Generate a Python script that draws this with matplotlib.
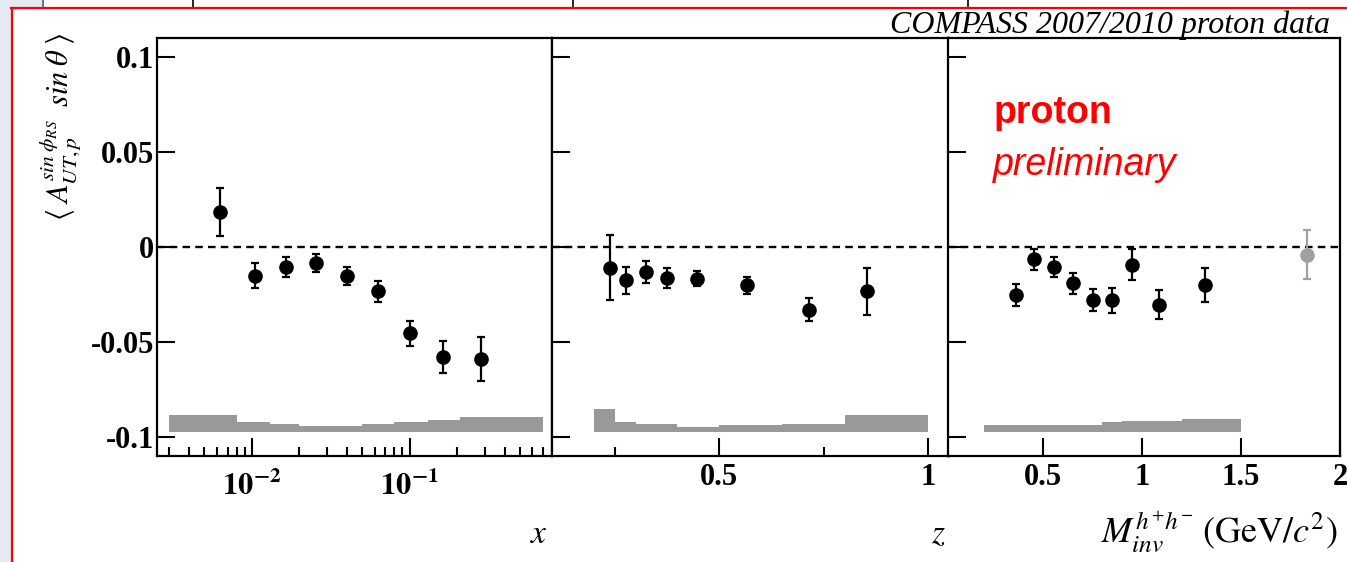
import matplotlib
matplotlib.use("Agg")
import matplotlib.pyplot as plt
import numpy as np
from matplotlib.lines import Line2D
from matplotlib.patches import Rectangle
from matplotlib.ticker import FixedLocator, FixedFormatter, NullFormatter

plt.rcParams['mathtext.fontset'] = 'stix'

# asymmetry vs x
x_vals = [0.0063, 0.0105, 0.0164, 0.0256, 0.0401, 0.063, 0.101, 0.163, 0.285]
x_asym = [0.0184, -0.0151, -0.0105, -0.0084, -0.0153, -0.0233, -0.0454, -0.0580, -0.0589]
x_err = [0.0127, 0.0067, 0.0053, 0.0046, 0.0046, 0.0056, 0.0065, 0.0085, 0.0114]
x_edges = [0.003, 0.008, 0.013, 0.02, 0.032, 0.05, 0.08, 0.13, 0.21, 0.7]
x_syst = [0.0092, 0.0053, 0.0042, 0.0035, 0.0035, 0.0042, 0.0053, 0.0065, 0.0082]

# asymmetry vs z
z_vals = [0.238, 0.278, 0.326, 0.375, 0.448, 0.567, 0.715, 0.854]
z_asym = [-0.0110, -0.0175, -0.0133, -0.0161, -0.0167, -0.0202, -0.0330, -0.0233]
z_err = [0.0171, 0.0070, 0.0058, 0.0053, 0.0040, 0.0046, 0.0061, 0.0124]
z_edges = [0.2, 0.25, 0.3, 0.35, 0.4, 0.5, 0.65, 0.8, 1.0]
z_syst = [0.0126, 0.0053, 0.0042, 0.0042, 0.0030, 0.0037, 0.0047, 0.0091]

# asymmetry vs invariant mass
m_vals = [0.363, 0.453, 0.553, 0.649, 0.750, 0.847, 0.948, 1.088, 1.320]
m_asym = [-0.0254, -0.0065, -0.0107, -0.0191, -0.0279, -0.0281, -0.0093, -0.0303, -0.0200]
m_err = [0.0059, 0.0054, 0.0053, 0.0055, 0.0057, 0.0067, 0.0082, 0.0075, 0.0090]
m_edges = [0.2, 0.4, 0.5, 0.6, 0.7, 0.8, 0.9, 1.0, 1.2, 1.5]
m_syst = [0.0038, 0.0038, 0.0038, 0.0038, 0.0038, 0.0053, 0.0060, 0.0060, 0.0070]

# high-mass bin (grey)
m_high = [1.834]
m_high_asym = [-0.0040]
m_high_err = [0.0128]

syst_base = -0.0976

W, H = 1347, 562
fig = plt.figure(figsize=(W / 100, H / 100), dpi=100)

# slide frame around the plot
fig.add_artist(Rectangle((0, 0), 11 / W, 1, transform=fig.transFigure,
                         color='#e4e9f2', lw=0))
fig.add_artist(Rectangle((0, 1 - 8 / H), 42 / W, 8 / H, transform=fig.transFigure,
                         color='#e4e9f2', lw=0))
for xp, c in [(42.5, '#3a5f9a'), (193, 'k'), (573, 'k'), (968, 'k')]:
    fig.add_artist(Line2D([xp / W, xp / W], [1, 1 - 7 / H], transform=fig.transFigure,
                          color=c, lw=1.2))
fig.add_artist(Line2D([11 / W, 1], [1 - 8 / H, 1 - 8 / H], transform=fig.transFigure,
                      color='red', lw=1.6))
fig.add_artist(Line2D([11.5 / W, 11.5 / W], [0, 1 - 8 / H], transform=fig.transFigure,
                      color='red', lw=1.6))

bottom = 1 - 456 / H
height = (456 - 38) / H
ax1 = fig.add_axes([157 / W, bottom, 395 / W, height])
ax2 = fig.add_axes([552 / W, bottom, 397 / W, height])
ax3 = fig.add_axes([948 / W, bottom, 392 / W, height])

tick_font = dict(family='Liberation Serif', weight='bold', size=22)

panels = [
    (ax1, x_vals, x_asym, x_err, x_edges, x_syst),
    (ax2, z_vals, z_asym, z_err, z_edges, z_syst),
    (ax3, m_vals, m_asym, m_err, m_edges, m_syst),
]
for ax, xv, yv, ev, edges, syst in panels:
    ax.bar(edges[:-1], syst, width=np.diff(edges), bottom=syst_base, align='edge',
           color='#999999', lw=0, zorder=1)
    ax.axhline(0, color='k', lw=1.7, ls=(0, (3.2, 2.2)), zorder=2)
    ax.errorbar(xv, yv, yerr=ev, fmt='o', color='k', ms=9.5, elinewidth=1.6,
                capsize=3.2, capthick=1.6, zorder=3)
    ax.set_ylim(-0.11, 0.11)
    ax.yaxis.set_major_locator(FixedLocator([-0.1, -0.05, 0, 0.05, 0.1]))
    ax.tick_params(which='major', direction='in', length=13, width=1.5,
                   top=False, right=False)
    ax.tick_params(which='minor', direction='in', length=6.5, width=1.5,
                   top=False, right=False)
    for s in ax.spines.values():
        s.set_linewidth(1.6)

ax3.errorbar(m_high, m_high_asym, yerr=m_high_err, fmt='o', color='#a0a0a0', ms=9.5,
             elinewidth=1.6, capsize=3.2, capthick=1.6, zorder=3)

# y tick labels only on the first panel
ax1.yaxis.set_major_formatter(FixedFormatter(['-0.1', '-0.05', '0', '0.05', '0.1']))
ax1.tick_params(axis='y', pad=2)
for t in ax1.get_yticklabels():
    t.set_fontproperties(tick_font)
ax2.tick_params(labelleft=False)
ax3.tick_params(labelleft=False)

# x panel: log axis
ax1.set_xscale('log')
ax1.set_xlim(0.0025, 0.8)
ax1.xaxis.set_major_locator(FixedLocator([0.01, 0.1]))
ax1.xaxis.set_major_formatter(FixedFormatter([r'$\mathbf{10^{-2}}$', r'$\mathbf{10^{-1}}$']))
ax1.xaxis.set_minor_locator(FixedLocator(
    [0.003, 0.004, 0.005, 0.006, 0.007, 0.008, 0.009,
     0.02, 0.03, 0.04, 0.05, 0.06, 0.07, 0.08, 0.09,
     0.2, 0.3, 0.4, 0.5, 0.6, 0.7]))
ax1.xaxis.set_minor_formatter(NullFormatter())
ax1.tick_params(axis='x', pad=10, labelsize=22)

# z panel
ax2.set_xlim(0.1, 1.05)
ax2.xaxis.set_major_locator(FixedLocator([0.5, 1.0]))
ax2.xaxis.set_major_formatter(FixedFormatter(['0.5', '1']))
ax2.xaxis.set_minor_locator(FixedLocator([0.25, 0.75]))
ax2.xaxis.set_minor_formatter(NullFormatter())
ax2.tick_params(axis='x', pad=5)
for t in ax2.get_xticklabels():
    t.set_fontproperties(tick_font)

# invariant mass panel
ax3.set_xlim(0.02, 2.0)
ax3.xaxis.set_major_locator(FixedLocator([0.5, 1.0, 1.5, 2.0]))
ax3.xaxis.set_major_formatter(FixedFormatter(['0.5', '1', '1.5', '2']))
ax3.xaxis.set_minor_locator(FixedLocator([]))
ax3.tick_params(axis='x', pad=5)
for t in ax3.get_xticklabels():
    t.set_fontproperties(tick_font)

# axis titles
fig.text(60 / W, 1 - 127 / H,
         r'$\langle\;A^{sin\;\phi_{RS}}_{UT,p}\;\; sin\;\theta\;\rangle$',
         rotation=90, ha='center', va='center', fontsize=22)
fig.text(548 / W, 1 - 543 / H, r'$x$', ha='right', va='baseline', fontsize=24)
fig.text(946 / W, 1 - 543 / H, r'$z$', ha='right', va='baseline', fontsize=24)
fig.text(1338 / W, 1 - 542 / H, r'$M^{h^{+}h^{-}}_{inv}\;(\mathrm{GeV}/c^{2})$',
         ha='right', va='baseline', fontsize=26)

fig.text(1330 / W, 1 - 33 / H, 'COMPASS 2007/2010 proton data',
         family='Liberation Serif', style='italic', fontsize=23,
         ha='right', va='baseline')
fig.text(994 / W, 1 - 123 / H, 'proton', family='Liberation Sans', weight='bold',
         color='red', fontsize=27, va='baseline')
fig.text(993 / W, 1 - 175 / H, 'preliminary', family='Liberation Sans', style='italic',
         color='red', fontsize=27, va='baseline')

fig.savefig('out.png', dpi=100)
